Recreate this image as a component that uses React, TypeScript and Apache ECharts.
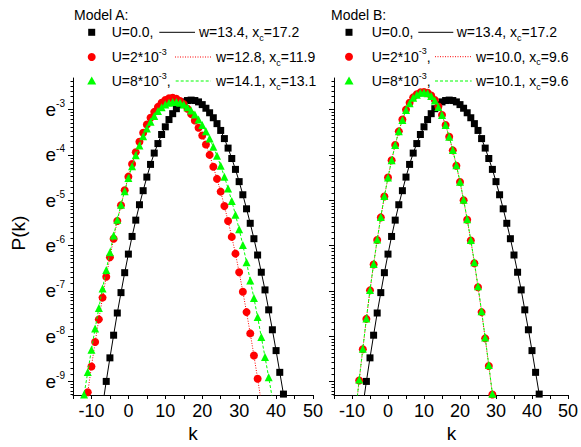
import React, { useEffect, useRef } from "react";
import * as echarts from "echarts";

const FONT = "'Liberation Sans', Arial, Helvetica, sans-serif";

// ---- data: k values and ln P(k) ----
const kBlack = [-7, -6, -5, -4, -3, -2, -1, 0, 1, 2, 3, 4, 5, 6, 7, 8, 9, 10, 11, 12, 13, 14, 15, 16, 17, 18, 19, 20, 21, 22, 23, 24, 25, 26, 27, 28, 29, 30, 31, 32, 33, 34, 35, 36, 37, 38, 39, 40, 41, 42, 43];
const lnPBlack = [-9.55, -9.0, -8.48, -7.98, -7.49, -7.04, -6.6, -6.19, -5.8, -5.44, -5.1, -4.79, -4.49, -4.21, -3.96, -3.75, -3.55, -3.38, -3.22, -3.09, -2.98, -2.89, -2.83, -2.8, -2.79, -2.8, -2.83, -2.89, -2.97, -3.07, -3.18, -3.31, -3.46, -3.64, -3.85, -4.08, -4.32, -4.59, -4.88, -5.19, -5.51, -5.85, -6.21, -6.59, -6.98, -7.42, -7.86, -8.32, -8.8, -9.28, -9.78];

const kRedA = [-12, -11, -10, -9, -8, -7, -6, -5, -4, -3, -2, -1, 0, 1, 2, 3, 4, 5, 6, 7, 8, 9, 10, 11, 12, 13, 14, 15, 16, 17, 18, 19, 20, 21, 22, 23, 24, 25, 26, 27, 28, 29, 30, 31, 32, 33, 34, 35, 36];
const lnPRedA = [-9.8, -9.24, -8.67, -8.13, -7.63, -7.15, -6.69, -6.26, -5.85, -5.46, -5.11, -4.78, -4.48, -4.2, -3.94, -3.71, -3.51, -3.33, -3.18, -3.05, -2.94, -2.85, -2.79, -2.75, -2.74, -2.76, -2.81, -2.88, -2.98, -3.1, -3.24, -3.4, -3.57, -3.77, -4.0, -4.26, -4.53, -4.81, -5.13, -5.46, -5.81, -6.18, -6.59, -7.02, -7.47, -7.94, -8.43, -8.94, -9.46];

const kGreenA = [-13, -12, -11, -10, -9, -8, -7, -6, -5, -4, -3, -2, -1, 0, 1, 2, 3, 4, 5, 6, 7, 8, 9, 10, 11, 12, 13, 14, 15, 16, 17, 18, 19, 20, 21, 22, 23, 24, 25, 26, 27, 28, 29, 30, 31, 32, 33, 34, 35, 36, 37, 38, 39];
const lnPGreenA = [-9.8, -9.29, -8.79, -8.3, -7.83, -7.38, -6.95, -6.54, -6.15, -5.78, -5.43, -5.1, -4.8, -4.51, -4.25, -4.01, -3.79, -3.59, -3.42, -3.27, -3.14, -3.03, -2.95, -2.89, -2.85, -2.83, -2.83, -2.85, -2.89, -2.95, -3.02, -3.11, -3.22, -3.34, -3.48, -3.64, -3.82, -4.02, -4.24, -4.48, -4.74, -5.02, -5.32, -5.64, -5.99, -6.37, -6.77, -7.16, -7.58, -8.02, -8.46, -8.91, -9.38];

const kB = [-9, -8, -7, -6, -5, -4, -3, -2, -1, 0, 1, 2, 3, 4, 5, 6, 7, 8, 9, 10, 11, 12, 13, 14, 15, 16, 17, 18, 19, 20, 21, 22, 23, 24, 25, 26, 27, 28, 29, 30];
const lnPRedB = [-9.68, -8.98, -8.29, -7.62, -6.99, -6.42, -5.88, -5.38, -4.92, -4.5, -4.12, -3.78, -3.48, -3.22, -3.0, -2.85, -2.73, -2.66, -2.62, -2.61, -2.63, -2.69, -2.79, -2.93, -3.12, -3.34, -3.6, -3.9, -4.24, -4.6, -5.0, -5.43, -5.89, -6.39, -6.92, -7.47, -8.05, -8.66, -9.29, -9.94];
const lnPGreenB = [-9.66, -8.96, -8.28, -7.61, -6.98, -6.41, -5.87, -5.37, -4.91, -4.5, -4.12, -3.78, -3.48, -3.23, -3.01, -2.86, -2.74, -2.67, -2.63, -2.62, -2.64, -2.7, -2.8, -2.94, -3.12, -3.34, -3.6, -3.89, -4.23, -4.59, -4.99, -5.42, -5.88, -6.37, -6.9, -7.45, -8.03, -8.64, -9.27, -9.92];

// ---- axis ticks / labels ----
const xTickValues = [-15, -10, -5, 0, 5, 10, 15, 20, 25, 30, 35, 40, 45, 50];
const xLabelValues = [-10, 0, 10, 20, 30, 40, 50];
const yMajorExponents = [-9, -8, -7, -6, -5, -4, -3];
const Y_MIN = -9.3;
const Y_MAX = Math.log(0.1);
const MINOR_DIVISIONS = 10;

const RED = "#ff0000";
const GREEN = "#00ff00";

function minorTickValues(): number[] {
  const out: number[] = [];
  for (let n = -10; n <= -3; n++) {
    const a = Math.exp(n);
    const b = Math.exp(n + 1);
    for (let i = 1; i < MINOR_DIVISIONS; i++) {
      const v = Math.log(a + (i * (b - a)) / MINOR_DIVISIONS);
      if (v > Y_MIN && v < Y_MAX) out.push(v);
    }
  }
  return out;
}

const zip = (ks: number[], vs: number[]) => ks.map((k, i) => [k, vs[i]]);

function xAxis(gridIndex: number) {
  return {
    type: "value",
    gridIndex,
    min: -15,
    max: 50,
    axisLine: { show: true, onZero: false, lineStyle: { color: "#000", width: 1 } },
    axisTick: { show: true, inside: false, length: 4, customValues: xTickValues, lineStyle: { color: "#000", width: 1 } },
    axisLabel: { show: true, customValues: xLabelValues, fontSize: 18, color: "#000", fontFamily: FONT, margin: 7 },
    splitLine: { show: false },
  };
}

function yAxisMajor(gridIndex: number, showLabels: boolean) {
  return {
    type: "value",
    gridIndex,
    position: "left",
    min: Y_MIN,
    max: Y_MAX,
    axisLine: { show: true, onZero: false, lineStyle: { color: "#000", width: 1 } },
    axisTick: { show: true, inside: false, length: 5, customValues: yMajorExponents, lineStyle: { color: "#000", width: 1 } },
    axisLabel: {
      show: showLabels,
      customValues: yMajorExponents,
      formatter: (v: number) => `e{sup|${v}}`,
      fontSize: 19,
      lineHeight: 22,
      color: "#000",
      fontFamily: FONT,
      margin: 8,
      rich: { sup: { fontSize: 10, lineHeight: 10, verticalAlign: "top", color: "#000", fontFamily: FONT } },
    },
    splitLine: { show: false },
  };
}

function yAxisMinor(gridIndex: number) {
  return {
    type: "value",
    gridIndex,
    position: "left",
    min: Y_MIN,
    max: Y_MAX,
    axisLine: { show: false, onZero: false },
    axisTick: { show: true, inside: false, length: 2.5, customValues: minorTickValues(), lineStyle: { color: "#000", width: 1 } },
    axisLabel: { show: false },
    splitLine: { show: false },
  };
}

function seriesOf(name: string, data: number[][], xi: number, yi: number, kind: "black" | "red" | "green") {
  const base: any = {
    name,
    type: "line",
    xAxisIndex: xi,
    yAxisIndex: yi,
    data,
    clip: true,
    smooth: false,
    showSymbol: true,
    z: kind === "black" ? 2 : kind === "red" ? 3 : 4,
  };
  if (kind === "black") {
    base.symbol = "rect";
    base.symbolSize = 7;
    base.itemStyle = { color: "#000" };
    base.lineStyle = { color: "#000", width: 1, type: "solid" };
  } else if (kind === "red") {
    base.symbol = "circle";
    base.symbolSize = 8;
    base.itemStyle = { color: RED };
    base.lineStyle = { color: RED, width: 1, type: [1, 1.5] };
  } else {
    base.symbol = "triangle";
    base.symbolSize = 8;
    base.itemStyle = { color: GREEN };
    base.lineStyle = { color: GREEN, width: 1, type: [3, 2] };
  }
  return base;
}

const RICH = {
  sup: { fontSize: 9, lineHeight: 9, verticalAlign: "top", fill: "#000", fontFamily: FONT },
  sub: { fontSize: 9, lineHeight: 9, verticalAlign: "bottom", fill: "#000", fontFamily: FONT },
};

function txt(x: number, y: number, text: string, size = 14): any {
  return {
    type: "text",
    x,
    y,
    z: 100,
    style: {
      text,
      fill: "#000",
      fontSize: size,
      fontFamily: FONT,
      lineHeight: 20,
      align: "left",
      verticalAlign: "middle",
      textAlign: "left",
      textVerticalAlign: "middle",
      rich: RICH,
    },
  };
}

function marker(kind: "black" | "red" | "green", cx: number, cy: number): any {
  if (kind === "black") return { type: "rect", z: 100, shape: { x: cx - 3.5, y: cy - 3.5, width: 7, height: 7 }, style: { fill: "#000" } };
  if (kind === "red") return { type: "circle", z: 100, shape: { cx, cy, r: 4 }, style: { fill: RED } };
  return { type: "polygon", z: 100, shape: { points: [[cx, cy - 4.5], [cx + 4.5, cy + 3.5], [cx - 4.5, cy + 3.5]] }, style: { fill: GREEN } };
}

function legLine(kind: "black" | "red" | "green", x1: number, x2: number, y: number): any {
  const stroke = kind === "black" ? "#000" : kind === "red" ? RED : GREEN;
  const dash = kind === "black" ? null : kind === "red" ? [1, 1.5] : [3, 2];
  return { type: "line", z: 100, shape: { x1, y1: y, x2, y2: y }, style: { stroke, lineWidth: 1, lineDash: dash } };
}

function centered(x: number, y: number, text: string, rotation = 0): any {
  return {
    type: "text",
    x,
    y,
    rotation,
    z: 100,
    style: { text, fill: "#000", fontSize: 19, fontFamily: FONT, align: "center", verticalAlign: "middle", textAlign: "center", textVerticalAlign: "middle" },
  };
}

export default function App() {
  const ref = useRef<HTMLDivElement>(null);
  useEffect(() => {
    if (!ref.current) return;
    const chart = echarts.init(ref.current, undefined, { renderer: "svg" });
    const graphic: any[] = [
      // panel A legend
      txt(74, 15, "Model A:"),
      marker("black", 91.7, 32.3),
      txt(111.7, 32.3, "U=0.0,"),
      legLine("black", 159.3, 195, 32.3),
      txt(199, 32.3, "w=13.4, x{sub|c}=17.2"),
      marker("red", 91.7, 57),
      txt(111.7, 57, "U=2*10{sup|-3}"),
      legLine("red", 175, 211.7, 57),
      txt(216, 57, "w=12.8, x{sub|c}=11.9"),
      marker("green", 91.7, 81),
      txt(111.7, 81, "U=8*10{sup|-3},"),
      legLine("green", 175.7, 211, 81),
      txt(216, 81, "w=14.1, x{sub|c}=13.1"),
      // panel B legend
      txt(331, 15, "Model B:"),
      marker("black", 349, 32.3),
      txt(371.7, 32.3, "U=0.0,"),
      legLine("black", 418.3, 453.3, 32.3),
      txt(456.7, 32.3, "w=13.4, x{sub|c}=17.2"),
      marker("red", 349, 56.7),
      txt(371.7, 56.7, "U=2*10{sup|-3},"),
      legLine("red", 435, 471.7, 56.7),
      txt(476, 56.7, "w=10.0, x{sub|c}=9.6"),
      marker("green", 349, 81),
      txt(371.7, 81, "U=8*10{sup|-3},"),
      legLine("green", 435, 471.7, 81),
      txt(476, 81, "w=10.1, x{sub|c}=9.6"),
      // axis titles
      centered(18, 233, "P(k)", Math.PI / 2),
      centered(193, 433, "k"),
      centered(451.5, 433, "k"),
    ];

    const option: any = {
      animation: false,
      backgroundColor: "#fff",
      grid: [
        { left: 73, top: 78, width: 240, height: 317, containLabel: false },
        { left: 334, top: 78, width: 235, height: 317, containLabel: false },
      ],
      xAxis: [xAxis(0), xAxis(1)],
      yAxis: [yAxisMajor(0, true), yAxisMinor(0), yAxisMajor(1, false), yAxisMinor(1)],
      series: [
        seriesOf("A U=0.0", zip(kBlack, lnPBlack), 0, 0, "black"),
        seriesOf("A U=2e-3", zip(kRedA, lnPRedA), 0, 0, "red"),
        seriesOf("A U=8e-3", zip(kGreenA, lnPGreenA), 0, 0, "green"),
        seriesOf("B U=0.0", zip(kBlack, lnPBlack), 1, 2, "black"),
        seriesOf("B U=2e-3", zip(kB, lnPRedB), 1, 2, "red"),
        seriesOf("B U=8e-3", zip(kB, lnPGreenB), 1, 2, "green"),
      ],
      graphic,
    };
    chart.setOption(option);
    return () => chart.dispose();
  }, []);
  return <div ref={ref} style={{ position: "absolute", left: 0, top: 0, width: 581, height: 447, background: "#fff" }} />;
}
